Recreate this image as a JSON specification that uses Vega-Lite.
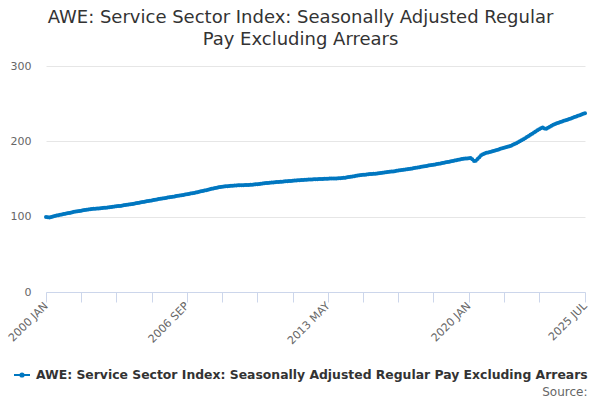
{
  "$schema": "https://vega.github.io/schema/vega-lite/v6.json",
  "width": 539,
  "height": 226,
  "autosize": {"type": "none"},
  "padding": {"top": 66, "left": 46, "right": 15, "bottom": 108},
  "background": "white",
  "title": {
    "text": ["AWE: Service Sector Index: Seasonally Adjusted Regular", "Pay Excluding Arrears"],
    "font": "DejaVu Sans",
    "fontSize": 18,
    "fontWeight": "normal",
    "color": "#333333",
    "lineHeight": 22,
    "anchor": "middle",
    "frame": "group",
    "dx": -15,
    "offset": 11
  },
  "datasets": {
    "awe": [
      {"date":"2000-01-01","value":99.5},{"date":"2000-02-01","value":99.2},{"date":"2000-03-01","value":99.0},{"date":"2000-04-01","value":99.6},{"date":"2000-05-01","value":100.3},{"date":"2000-06-01","value":101.0},{"date":"2000-07-01","value":101.5},{"date":"2000-08-01","value":102.0},{"date":"2000-09-01","value":102.4},{"date":"2000-10-01","value":103.0},{"date":"2000-11-01","value":103.5},{"date":"2000-12-01","value":104.0},
      {"date":"2001-01-01","value":104.5},{"date":"2001-02-01","value":105.0},{"date":"2001-03-01","value":105.3},{"date":"2001-04-01","value":105.8},{"date":"2001-05-01","value":106.4},{"date":"2001-06-01","value":106.9},{"date":"2001-07-01","value":107.3},{"date":"2001-08-01","value":107.6},{"date":"2001-09-01","value":108.0},{"date":"2001-10-01","value":108.5},{"date":"2001-11-01","value":109.0},{"date":"2001-12-01","value":109.3},
      {"date":"2002-01-01","value":109.6},{"date":"2002-02-01","value":109.9},{"date":"2002-03-01","value":110.2},{"date":"2002-04-01","value":110.4},{"date":"2002-05-01","value":110.6},{"date":"2002-06-01","value":110.8},{"date":"2002-07-01","value":111.0},{"date":"2002-08-01","value":111.2},{"date":"2002-09-01","value":111.4},{"date":"2002-10-01","value":111.7},{"date":"2002-11-01","value":112.0},{"date":"2002-12-01","value":112.2},
      {"date":"2003-01-01","value":112.5},{"date":"2003-02-01","value":112.8},{"date":"2003-03-01","value":113.1},{"date":"2003-04-01","value":113.4},{"date":"2003-05-01","value":113.7},{"date":"2003-06-01","value":114.0},{"date":"2003-07-01","value":114.3},{"date":"2003-08-01","value":114.6},{"date":"2003-09-01","value":115.0},{"date":"2003-10-01","value":115.4},{"date":"2003-11-01","value":115.7},{"date":"2003-12-01","value":116.1},
      {"date":"2004-01-01","value":116.5},{"date":"2004-02-01","value":116.9},{"date":"2004-03-01","value":117.3},{"date":"2004-04-01","value":117.7},{"date":"2004-05-01","value":118.1},{"date":"2004-06-01","value":118.6},{"date":"2004-07-01","value":119.0},{"date":"2004-08-01","value":119.4},{"date":"2004-09-01","value":119.9},{"date":"2004-10-01","value":120.3},{"date":"2004-11-01","value":120.7},{"date":"2004-12-01","value":121.1},
      {"date":"2005-01-01","value":121.5},{"date":"2005-02-01","value":122.0},{"date":"2005-03-01","value":122.4},{"date":"2005-04-01","value":122.8},{"date":"2005-05-01","value":123.3},{"date":"2005-06-01","value":123.7},{"date":"2005-07-01","value":124.1},{"date":"2005-08-01","value":124.5},{"date":"2005-09-01","value":124.9},{"date":"2005-10-01","value":125.4},{"date":"2005-11-01","value":125.8},{"date":"2005-12-01","value":126.1},
      {"date":"2006-01-01","value":126.5},{"date":"2006-02-01","value":126.9},{"date":"2006-03-01","value":127.3},{"date":"2006-04-01","value":127.7},{"date":"2006-05-01","value":128.1},{"date":"2006-06-01","value":128.5},{"date":"2006-07-01","value":128.9},{"date":"2006-08-01","value":129.3},{"date":"2006-09-01","value":129.7},{"date":"2006-10-01","value":130.1},{"date":"2006-11-01","value":130.6},{"date":"2006-12-01","value":131.0},
      {"date":"2007-01-01","value":131.5},{"date":"2007-02-01","value":132.0},{"date":"2007-03-01","value":132.5},{"date":"2007-04-01","value":133.0},{"date":"2007-05-01","value":133.6},{"date":"2007-06-01","value":134.1},{"date":"2007-07-01","value":134.7},{"date":"2007-08-01","value":135.2},{"date":"2007-09-01","value":135.8},{"date":"2007-10-01","value":136.4},{"date":"2007-11-01","value":137.0},{"date":"2007-12-01","value":137.5},
      {"date":"2008-01-01","value":138.0},{"date":"2008-02-01","value":138.5},{"date":"2008-03-01","value":138.9},{"date":"2008-04-01","value":139.3},{"date":"2008-05-01","value":139.7},{"date":"2008-06-01","value":140.0},{"date":"2008-07-01","value":140.3},{"date":"2008-08-01","value":140.5},{"date":"2008-09-01","value":140.8},{"date":"2008-10-01","value":141.0},{"date":"2008-11-01","value":141.2},{"date":"2008-12-01","value":141.4},
      {"date":"2009-01-01","value":141.5},{"date":"2009-02-01","value":141.6},{"date":"2009-03-01","value":141.7},{"date":"2009-04-01","value":141.8},{"date":"2009-05-01","value":141.8},{"date":"2009-06-01","value":141.9},{"date":"2009-07-01","value":142.0},{"date":"2009-08-01","value":142.1},{"date":"2009-09-01","value":142.3},{"date":"2009-10-01","value":142.5},{"date":"2009-11-01","value":142.7},{"date":"2009-12-01","value":142.9},
      {"date":"2010-01-01","value":143.1},{"date":"2010-02-01","value":143.4},{"date":"2010-03-01","value":143.7},{"date":"2010-04-01","value":144.0},{"date":"2010-05-01","value":144.3},{"date":"2010-06-01","value":144.6},{"date":"2010-07-01","value":144.8},{"date":"2010-08-01","value":145.0},{"date":"2010-09-01","value":145.3},{"date":"2010-10-01","value":145.5},{"date":"2010-11-01","value":145.7},{"date":"2010-12-01","value":145.9},
      {"date":"2011-01-01","value":146.1},{"date":"2011-02-01","value":146.3},{"date":"2011-03-01","value":146.5},{"date":"2011-04-01","value":146.7},{"date":"2011-05-01","value":146.9},{"date":"2011-06-01","value":147.1},{"date":"2011-07-01","value":147.3},{"date":"2011-08-01","value":147.5},{"date":"2011-09-01","value":147.7},{"date":"2011-10-01","value":147.9},{"date":"2011-11-01","value":148.1},{"date":"2011-12-01","value":148.3},
      {"date":"2012-01-01","value":148.5},{"date":"2012-02-01","value":148.7},{"date":"2012-03-01","value":148.8},{"date":"2012-04-01","value":148.9},{"date":"2012-05-01","value":149.1},{"date":"2012-06-01","value":149.2},{"date":"2012-07-01","value":149.3},{"date":"2012-08-01","value":149.5},{"date":"2012-09-01","value":149.6},{"date":"2012-10-01","value":149.7},{"date":"2012-11-01","value":149.8},{"date":"2012-12-01","value":149.9},
      {"date":"2013-01-01","value":150.0},{"date":"2013-02-01","value":150.1},{"date":"2013-03-01","value":150.2},{"date":"2013-04-01","value":150.3},{"date":"2013-05-01","value":150.4},{"date":"2013-06-01","value":150.5},{"date":"2013-07-01","value":150.5},{"date":"2013-08-01","value":150.6},{"date":"2013-09-01","value":150.7},{"date":"2013-10-01","value":150.8},{"date":"2013-11-01","value":150.9},{"date":"2013-12-01","value":151.0},
      {"date":"2014-01-01","value":151.2},{"date":"2014-02-01","value":151.5},{"date":"2014-03-01","value":151.8},{"date":"2014-04-01","value":152.2},{"date":"2014-05-01","value":152.6},{"date":"2014-06-01","value":153.0},{"date":"2014-07-01","value":153.4},{"date":"2014-08-01","value":153.8},{"date":"2014-09-01","value":154.2},{"date":"2014-10-01","value":154.6},{"date":"2014-11-01","value":154.9},{"date":"2014-12-01","value":155.2},
      {"date":"2015-01-01","value":155.5},{"date":"2015-02-01","value":155.8},{"date":"2015-03-01","value":156.0},{"date":"2015-04-01","value":156.3},{"date":"2015-05-01","value":156.5},{"date":"2015-06-01","value":156.7},{"date":"2015-07-01","value":156.9},{"date":"2015-08-01","value":157.1},{"date":"2015-09-01","value":157.4},{"date":"2015-10-01","value":157.7},{"date":"2015-11-01","value":158.0},{"date":"2015-12-01","value":158.3},
      {"date":"2016-01-01","value":158.6},{"date":"2016-02-01","value":158.9},{"date":"2016-03-01","value":159.2},{"date":"2016-04-01","value":159.5},{"date":"2016-05-01","value":159.8},{"date":"2016-06-01","value":160.1},{"date":"2016-07-01","value":160.4},{"date":"2016-08-01","value":160.8},{"date":"2016-09-01","value":161.2},{"date":"2016-10-01","value":161.6},{"date":"2016-11-01","value":162.0},{"date":"2016-12-01","value":162.3},
      {"date":"2017-01-01","value":162.6},{"date":"2017-02-01","value":162.9},{"date":"2017-03-01","value":163.3},{"date":"2017-04-01","value":163.7},{"date":"2017-05-01","value":164.1},{"date":"2017-06-01","value":164.5},{"date":"2017-07-01","value":164.8},{"date":"2017-08-01","value":165.2},{"date":"2017-09-01","value":165.6},{"date":"2017-10-01","value":166.1},{"date":"2017-11-01","value":166.6},{"date":"2017-12-01","value":167.0},
      {"date":"2018-01-01","value":167.4},{"date":"2018-02-01","value":167.8},{"date":"2018-03-01","value":168.2},{"date":"2018-04-01","value":168.6},{"date":"2018-05-01","value":169.0},{"date":"2018-06-01","value":169.4},{"date":"2018-07-01","value":169.8},{"date":"2018-08-01","value":170.2},{"date":"2018-09-01","value":170.7},{"date":"2018-10-01","value":171.2},{"date":"2018-11-01","value":171.7},{"date":"2018-12-01","value":172.1},
      {"date":"2019-01-01","value":172.5},{"date":"2019-02-01","value":173.0},{"date":"2019-03-01","value":173.5},{"date":"2019-04-01","value":174.0},{"date":"2019-05-01","value":174.5},{"date":"2019-06-01","value":175.0},{"date":"2019-07-01","value":175.5},{"date":"2019-08-01","value":176.0},{"date":"2019-09-01","value":176.4},{"date":"2019-10-01","value":176.8},{"date":"2019-11-01","value":177.1},{"date":"2019-12-01","value":177.3},
      {"date":"2020-01-01","value":177.5},{"date":"2020-02-01","value":177.8},{"date":"2020-03-01","value":176.3},{"date":"2020-04-01","value":174.0},{"date":"2020-05-01","value":174.3},{"date":"2020-06-01","value":176.5},{"date":"2020-07-01","value":179.0},{"date":"2020-08-01","value":181.5},{"date":"2020-09-01","value":183.0},{"date":"2020-10-01","value":184.0},{"date":"2020-11-01","value":184.7},{"date":"2020-12-01","value":185.3},
      {"date":"2021-01-01","value":185.9},{"date":"2021-02-01","value":186.5},{"date":"2021-03-01","value":187.2},{"date":"2021-04-01","value":187.8},{"date":"2021-05-01","value":188.5},{"date":"2021-06-01","value":189.3},{"date":"2021-07-01","value":190.0},{"date":"2021-08-01","value":190.7},{"date":"2021-09-01","value":191.4},{"date":"2021-10-01","value":192.1},{"date":"2021-11-01","value":192.8},{"date":"2021-12-01","value":193.5},
      {"date":"2022-01-01","value":194.3},{"date":"2022-02-01","value":195.3},{"date":"2022-03-01","value":196.4},{"date":"2022-04-01","value":197.6},{"date":"2022-05-01","value":198.8},{"date":"2022-06-01","value":200.1},{"date":"2022-07-01","value":201.4},{"date":"2022-08-01","value":202.8},{"date":"2022-09-01","value":204.2},{"date":"2022-10-01","value":205.6},{"date":"2022-11-01","value":207.0},{"date":"2022-12-01","value":208.6},
      {"date":"2023-01-01","value":210.2},{"date":"2023-02-01","value":211.8},{"date":"2023-03-01","value":213.2},{"date":"2023-04-01","value":214.6},{"date":"2023-05-01","value":216.0},{"date":"2023-06-01","value":217.3},{"date":"2023-07-01","value":218.5},{"date":"2023-08-01","value":217.0},{"date":"2023-09-01","value":216.8},{"date":"2023-10-01","value":218.0},{"date":"2023-11-01","value":219.5},{"date":"2023-12-01","value":220.8},
      {"date":"2024-01-01","value":222.0},{"date":"2024-02-01","value":223.0},{"date":"2024-03-01","value":223.9},{"date":"2024-04-01","value":224.8},{"date":"2024-05-01","value":225.6},{"date":"2024-06-01","value":226.4},{"date":"2024-07-01","value":227.2},{"date":"2024-08-01","value":228.0},{"date":"2024-09-01","value":228.8},{"date":"2024-10-01","value":229.6},{"date":"2024-11-01","value":230.4},{"date":"2024-12-01","value":231.3},
      {"date":"2025-01-01","value":232.2},{"date":"2025-02-01","value":233.0},{"date":"2025-03-01","value":233.8},{"date":"2025-04-01","value":234.6},{"date":"2025-05-01","value":235.5},{"date":"2025-06-01","value":236.5},{"date":"2025-07-01","value":237.3}
    ]
  },
  "data": {"name": "awe"},
  "mark": {
    "type": "line",
    "strokeWidth": 2,
    "point": {"filled": true, "size": 16}
  },
  "encoding": {
    "x": {
      "field": "date",
      "type": "temporal",
      "scale": {"type": "utc", "nice": false, "padding": 0},
      "axis": {
        "title": "Source:",
        "titleFont": "DejaVu Sans",
        "titleFontSize": 12,
        "titleFontWeight": "normal",
        "titleColor": "#666666",
        "titleAnchor": "end",
        "titleAlign": "right",
        "titleBaseline": "alphabetic",
        "titleX": 541,
        "titleY": 103,
        "values": [
          {"year": 2000, "month": 1, "date": 1, "utc": true},
          {"year": 2001, "month": 9, "date": 1, "utc": true},
          {"year": 2003, "month": 5, "date": 1, "utc": true},
          {"year": 2005, "month": 1, "date": 1, "utc": true},
          {"year": 2006, "month": 9, "date": 1, "utc": true},
          {"year": 2008, "month": 5, "date": 1, "utc": true},
          {"year": 2010, "month": 1, "date": 1, "utc": true},
          {"year": 2011, "month": 9, "date": 1, "utc": true},
          {"year": 2013, "month": 5, "date": 1, "utc": true},
          {"year": 2015, "month": 1, "date": 1, "utc": true},
          {"year": 2016, "month": 9, "date": 1, "utc": true},
          {"year": 2018, "month": 5, "date": 1, "utc": true},
          {"year": 2020, "month": 1, "date": 1, "utc": true},
          {"year": 2021, "month": 9, "date": 1, "utc": true},
          {"year": 2023, "month": 5, "date": 1, "utc": true},
          {"year": 2025, "month": 7, "date": 1, "utc": true}
        ],
        "labelExpr": "indexof(['2000-01','2006-09','2013-05','2020-01','2025-07'], utcFormat(datum.value, '%Y-%m')) >= 0 ? upper(utcFormat(datum.value, '%Y %b')) : ''",
        "labelAngle": -45,
        "labelAlign": "right",
        "labelBaseline": "middle",
        "labelFont": "DejaVu Sans",
        "labelFontSize": 11,
        "labelColor": "#666666",
        "labelOverlap": false,
        "labelPadding": 2,
        "labelBound": false,
        "labelFlush": false,
        "domainColor": "#ccd6eb",
        "domainWidth": 1,
        "tickColor": "#ccd6eb",
        "tickSize": 10,
        "grid": false
      }
    },
    "y": {
      "field": "value",
      "type": "quantitative",
      "scale": {"domain": [0, 300], "nice": false, "zero": true},
      "axis": {
        "title": null,
        "values": [0, 100, 200, 300],
        "domain": false,
        "ticks": false,
        "grid": true,
        "gridColor": "#e6e6e6",
        "labelFont": "DejaVu Sans",
        "labelFontSize": 11,
        "labelColor": "#666666",
        "labelPadding": 15
      }
    },
    "color": {
      "datum": "AWE: Service Sector Index: Seasonally Adjusted Regular Pay Excluding Arrears",
      "type": "nominal",
      "scale": {"range": ["#0077c0"]},
      "legend": {
        "title": null,
        "orient": "none",
        "legendX": -33,
        "legendY": 300,
        "direction": "horizontal",
        "labelFont": "DejaVu Sans",
        "labelFontSize": 12.4,
        "labelFontWeight": "bold",
        "labelColor": "#333333",
        "labelLimit": 0,
        "labelOffset": 5,
        "symbolType": "M -1 0 L 1 0 M -0.2 0 A 0.2 0.2 0 1 0 0.2 0 A 0.2 0.2 0 1 0 -0.2 0",
        "symbolSize": 256,
        "symbolStrokeWidth": 2,
        "symbolFillColor": "#0077c0",
        "symbolStrokeColor": "#0077c0"
      }
    }
  },
  "config": {
    "view": {"stroke": null},
    "font": "DejaVu Sans"
  }
}
